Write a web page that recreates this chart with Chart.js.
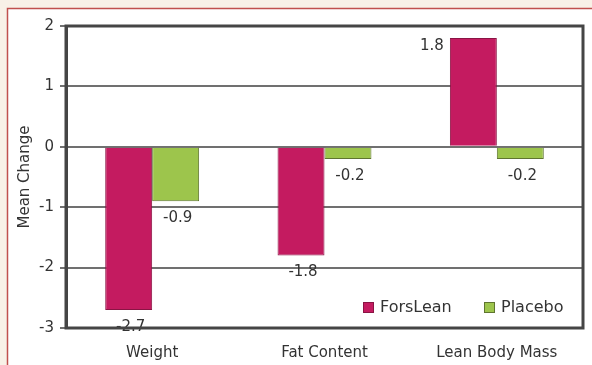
<!DOCTYPE html>
<html>
<head>
<meta charset="utf-8">
<script src="https://cdn.jsdelivr.net/npm/chart.js@4"></script>
<style>
  html, body { margin: 0; padding: 0; background: #f8f1e7; }
  #wrap { width: 592px; height: 365px; }
</style>
</head>
<body>
<div id="wrap"><canvas id="chart" width="592" height="365"></canvas></div>
<script>
const categories = ["Weight", "Fat Content", "Lean Body Mass"];
const forsLean = [-2.7, -1.8, 1.8];
const placebo = [-0.9, -0.2, -0.2];
const seriesNames = ["ForsLean", "Placebo"];
const yTicks = [2, 1, 0, -1, -2, -3];

const FONT = "'DejaVu Sans', sans-serif";

// cream page with the white framed panel
const framePlugin = {
    id: "frame",
    beforeDraw(chart) {
        const ctx = chart.ctx;
        ctx.save();
        ctx.fillStyle = "#f8f1e7";
        ctx.fillRect(0, 0, chart.width, chart.height);
        ctx.fillStyle = "#ffffff";
        ctx.fillRect(7, 8, chart.width, chart.height);
        ctx.strokeStyle = "#c0504d";
        ctx.lineWidth = 1.5;
        ctx.beginPath();
        ctx.moveTo(7.5, chart.height);
        ctx.lineTo(7.5, 8.5);
        ctx.lineTo(chart.width, 8.5);
        ctx.stroke();
        ctx.restore();
    },
    afterDraw(chart) {
        const ctx = chart.ctx;
        const a = chart.chartArea;
        ctx.save();
        ctx.strokeStyle = "#454545";
        ctx.lineWidth = 3;
        ctx.strokeRect(a.left, a.top, a.right - a.left, a.bottom - a.top);
        ctx.restore();
    }
};

// value labels next to each bar end
const labelPlugin = {
    id: "barLabels",
    afterDatasetsDraw(chart) {
        const ctx = chart.ctx;
        ctx.save();
        ctx.font = "15px " + FONT;
        ctx.fillStyle = "#333333";
        chart.data.datasets.forEach((ds, i) => {
            chart.getDatasetMeta(i).data.forEach((el, j) => {
                const v = ds.data[j];
                const txt = String(v);
                if (v >= 0) {
                    ctx.textAlign = "right";
                    ctx.textBaseline = "middle";
                    ctx.fillText(txt, el.x - el.width / 2 - 6, el.y + 8);
                } else {
                    ctx.textAlign = "center";
                    ctx.textBaseline = "middle";
                    ctx.fillText(txt, el.x + 2, el.y + 17);
                }
            });
        });
        ctx.restore();
    }
};

// legend drawn inside the plot, bottom right
const insideLegend = {
    id: "insideLegend",
    afterDraw(chart) {
        const ctx = chart.ctx;
        const a = chart.chartArea;
        const cy = a.bottom - 21;
        const xs = [a.right - 220, a.right - 99];
        ctx.save();
        ctx.font = "16px " + FONT;
        ctx.textBaseline = "middle";
        ctx.textAlign = "left";
        chart.data.datasets.forEach((ds, i) => {
            const x = xs[i];
            ctx.fillStyle = ds.backgroundColor;
            ctx.fillRect(x, cy - 5, 11, 11);
            ctx.strokeStyle = ds.borderColor;
            ctx.lineWidth = 1;
            ctx.strokeRect(x + 0.5, cy - 4.5, 10, 10);
            ctx.fillStyle = "#333333";
            ctx.fillText(ds.label, x + 17, cy + 1);
        });
        ctx.restore();
    }
};

new Chart(document.getElementById("chart"), {
    type: "bar",
    data: {
        labels: categories,
        datasets: [
            {
                label: seriesNames[0],
                data: forsLean,
                backgroundColor: "#c41b60",
                borderColor: "#8a1444",
                borderWidth: 1,
                categoryPercentage: 0.545,
                barPercentage: 1
            },
            {
                label: seriesNames[1],
                data: placebo,
                backgroundColor: "#9dc54c",
                borderColor: "#5f7530",
                borderWidth: 1,
                categoryPercentage: 0.545,
                barPercentage: 1
            }
        ]
    },
    options: {
        responsive: false,
        animation: false,
        layout: {
            padding: { left: 14, top: 26, right: 9, bottom: 0 }
        },
        plugins: {
            legend: { display: false },
            tooltip: { enabled: false }
        },
        scales: {
            x: {
                grid: { display: false },
                border: { display: false },
                ticks: {
                    color: "#333333",
                    font: { family: FONT, size: 15 },
                    padding: 8,
                    maxRotation: 0
                },
                afterFit(scale) { scale.height = 37; }
            },
            y: {
                min: -3,
                max: 2,
                afterBuildTicks(scale) {
                    scale.ticks = yTicks.map(v => ({ value: v }));
                },
                grid: {
                    color: "#707070",
                    lineWidth: 2,
                    tickLength: 6,
                    tickColor: "#707070"
                },
                border: { display: true, color: "#454545", width: 3 },
                ticks: {
                    color: "#333333",
                    font: { family: FONT, size: 15 },
                    padding: 6
                },
                title: {
                    display: true,
                    text: "Mean Change",
                    color: "#333333",
                    font: { family: FONT, size: 15 },
                    padding: 2
                },
                afterFit(scale) { scale.width = 52; }
            }
        }
    },
    plugins: [framePlugin, labelPlugin, insideLegend]
});
</script>
</body>
</html>
